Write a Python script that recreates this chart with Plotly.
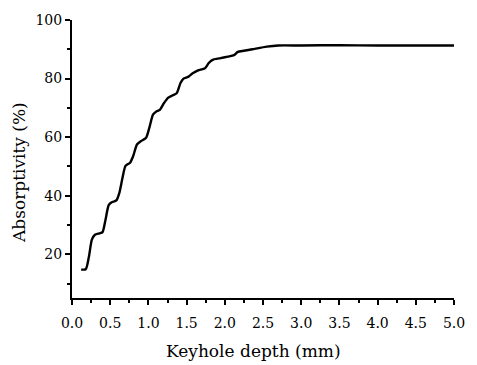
import plotly.graph_objects as go

depth = [0.12, 0.18, 0.22, 0.26, 0.30, 0.36, 0.40, 0.44, 0.48, 0.52, 0.58, 0.62, 0.66,
         0.70, 0.76, 0.80, 0.85, 0.90, 0.97, 1.01, 1.06, 1.10, 1.15, 1.20, 1.26, 1.32,
         1.37, 1.42, 1.46, 1.52, 1.58, 1.65, 1.74, 1.79, 1.84, 1.93, 2.04, 2.12, 2.17,
         2.25, 2.36, 2.55, 2.70, 3.0, 3.5, 4.0, 4.5, 5.0]
absorptivity = [14.8, 14.9, 19.0, 25.0, 26.7, 27.2, 27.6, 32.0, 36.8, 37.8, 38.4, 41.0, 46.0,
                50.2, 51.3, 53.5, 57.5, 58.6, 59.8, 63.0, 67.7, 68.7, 69.3, 71.5, 73.5, 74.3,
                75.0, 78.5, 80.0, 80.6, 81.8, 82.8, 83.5, 85.3, 86.4, 86.9, 87.5, 88.0, 89.1,
                89.5, 90.0, 90.9, 91.3, 91.3, 91.4, 91.3, 91.3, 91.3]

x_ticks = [0.0, 0.5, 1.0, 1.5, 2.0, 2.5, 3.0, 3.5, 4.0, 4.5, 5.0]
y_ticks = [20, 40, 60, 80, 100]

font_family = "DejaVu Serif, Liberation Serif, serif"

fig = go.Figure()
fig.add_trace(go.Scatter(
    x=depth, y=absorptivity, mode="lines",
    line=dict(color="black", width=2.4, shape="spline", smoothing=0.6),
    showlegend=False,
))

fig.update_layout(
    width=477, height=365,
    margin=dict(l=72, r=14, t=14, b=67),
    paper_bgcolor="white", plot_bgcolor="white",
    font=dict(family=font_family, color="black", size=14),
    xaxis=dict(
        range=[0, 5.0], tickvals=x_ticks, ticktext=[f"{v:.1f}" for v in x_ticks],
        showline=True, linecolor="black", linewidth=2, mirror=False,
        ticks="outside", ticklen=5, tickwidth=1.5, tickcolor="black",
        minor=dict(tickvals=[v + 0.25 for v in x_ticks[:-1]], ticks="outside", ticklen=3, tickwidth=1.5, tickcolor="black"),
        showgrid=False, zeroline=False,
        tickfont=dict(size=14),
        ticklabelstandoff=6,
    ),
    yaxis=dict(
        range=[5.1, 100], tickvals=y_ticks,
        showline=True, linecolor="black", linewidth=2, mirror=False,
        ticks="outside", ticklen=5, tickwidth=1.5, tickcolor="black",
        minor=dict(tickvals=[10, 30, 50, 70, 90], ticks="outside", ticklen=3, tickwidth=1.5, tickcolor="black"),
        showgrid=False, zeroline=False,
        tickfont=dict(size=14),
    ),
    annotations=[
        dict(text="Keyhole depth (mm)", xref="paper", yref="paper", x=0.476, y=-0.190,
             xanchor="center", yanchor="middle", showarrow=False, font=dict(size=17)),
        dict(text="Absorptivity (%)", xref="paper", yref="paper", x=-0.1407, y=0.4507,
             xanchor="center", yanchor="middle", showarrow=False, textangle=-90, font=dict(size=17)),
    ],
)

fig.write_html("out.html")
